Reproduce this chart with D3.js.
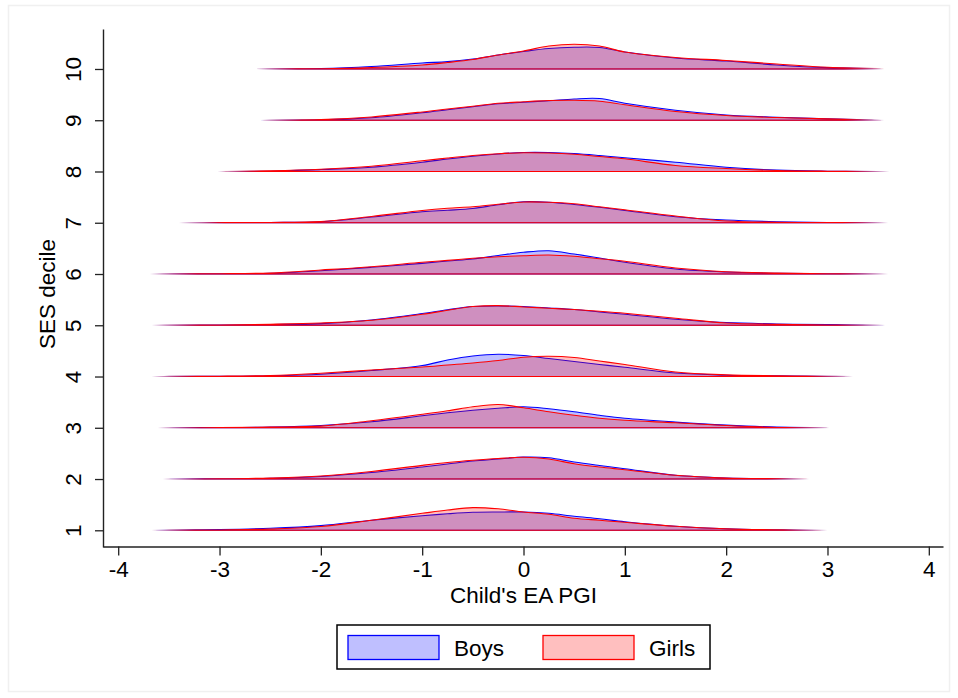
<!DOCTYPE html>
<html>
<head>
<meta charset="utf-8">
<script src="https://cdn.jsdelivr.net/npm/d3@7"></script>
<style>
  html, body { margin: 0; padding: 0; background: #fff; }
  svg { display: block; font-family: "Liberation Sans", Arial, sans-serif; }
</style>
</head>
<body>
<script>
// SES deciles (one ridge per decile)
const deciles = [1, 2, 3, 4, 5, 6, 7, 8, 9, 10];

// Evaluation grid of the kernel densities (child's EA PGI, standardised)
const gridPGI = [-3.5, -3, -2.5, -2, -1.5, -1, -0.75, -0.5, -0.25, 0, 0.25, 0.5, 0.75, 1, 1.5, 2, 2.5, 3, 3.5];

// Observed PGI range within each decile (density support)
const rangeLo = [-3.67, -3.56, -3.61, -3.67, -3.67, -3.69, -3.4, -3.02, -2.59, -2.63];
const rangeHi = [3.0, 2.82, 3.02, 3.25, 3.57, 3.6, 3.6, 3.61, 3.56, 3.56];

// Kernel density of the PGI for boys, by decile (rows = deciles 1..10)
const boysDensity = [
  [0.003, 0.012, 0.033, 0.078, 0.167, 0.242, 0.275, 0.300, 0.305, 0.305, 0.283, 0.233, 0.192, 0.142, 0.067, 0.025, 0.008, 0.001, 0],
  [0.001, 0.003, 0.012, 0.042, 0.108, 0.200, 0.250, 0.300, 0.333, 0.367, 0.355, 0.283, 0.225, 0.172, 0.062, 0.017, 0.005, 0, 0],
  [0.001, 0.003, 0.012, 0.038, 0.100, 0.200, 0.250, 0.292, 0.325, 0.350, 0.317, 0.267, 0.208, 0.158, 0.095, 0.045, 0.012, 0.002, 0],
  [0.002, 0.003, 0.012, 0.038, 0.100, 0.183, 0.275, 0.342, 0.372, 0.350, 0.300, 0.250, 0.200, 0.155, 0.058, 0.022, 0.012, 0.003, 0],
  [0.002, 0.003, 0.012, 0.028, 0.088, 0.195, 0.258, 0.312, 0.322, 0.312, 0.288, 0.262, 0.222, 0.183, 0.100, 0.045, 0.022, 0.012, 0.003],
  [0.002, 0.003, 0.012, 0.055, 0.112, 0.178, 0.217, 0.250, 0.308, 0.362, 0.388, 0.333, 0.267, 0.195, 0.083, 0.033, 0.012, 0.005, 0.002],
  [0, 0.002, 0.005, 0.017, 0.095, 0.183, 0.208, 0.238, 0.300, 0.350, 0.342, 0.305, 0.258, 0.205, 0.100, 0.045, 0.017, 0.005, 0.002],
  [0, 0, 0.005, 0.033, 0.072, 0.155, 0.208, 0.255, 0.292, 0.317, 0.317, 0.300, 0.267, 0.228, 0.155, 0.072, 0.022, 0.005, 0.001],
  [0, 0, 0.002, 0.008, 0.042, 0.125, 0.175, 0.225, 0.275, 0.300, 0.325, 0.355, 0.362, 0.283, 0.167, 0.088, 0.050, 0.022, 0.005],
  [0, 0, 0.002, 0.008, 0.042, 0.100, 0.122, 0.167, 0.233, 0.292, 0.342, 0.362, 0.358, 0.283, 0.183, 0.133, 0.067, 0.022, 0.005]
];

// Kernel density of the PGI for girls, by decile (rows = deciles 1..10)
const girlsDensity = [
  [0.002, 0.005, 0.022, 0.062, 0.167, 0.283, 0.338, 0.378, 0.358, 0.305, 0.267, 0.200, 0.167, 0.133, 0.067, 0.025, 0.007, 0.001, 0],
  [0.001, 0.003, 0.017, 0.050, 0.125, 0.228, 0.275, 0.312, 0.342, 0.362, 0.333, 0.255, 0.200, 0.155, 0.062, 0.017, 0.007, 0, 0],
  [0.001, 0.002, 0.012, 0.028, 0.117, 0.225, 0.283, 0.350, 0.388, 0.333, 0.267, 0.208, 0.158, 0.125, 0.083, 0.038, 0.005, 0.002, 0],
  [0.002, 0.005, 0.017, 0.055, 0.108, 0.158, 0.192, 0.225, 0.267, 0.322, 0.338, 0.317, 0.258, 0.200, 0.075, 0.028, 0.012, 0.003, 0],
  [0.002, 0.005, 0.017, 0.038, 0.083, 0.183, 0.250, 0.312, 0.328, 0.305, 0.283, 0.262, 0.233, 0.200, 0.117, 0.038, 0.017, 0.005, 0.002],
  [0.002, 0.005, 0.017, 0.067, 0.122, 0.195, 0.228, 0.262, 0.288, 0.305, 0.317, 0.295, 0.255, 0.212, 0.100, 0.038, 0.017, 0.005, 0.002],
  [0, 0.002, 0.005, 0.022, 0.105, 0.205, 0.242, 0.267, 0.308, 0.345, 0.342, 0.317, 0.267, 0.217, 0.112, 0.028, 0.008, 0.005, 0.002],
  [0, 0.001, 0.012, 0.038, 0.088, 0.178, 0.225, 0.267, 0.297, 0.312, 0.308, 0.288, 0.250, 0.212, 0.100, 0.050, 0.017, 0.005, 0.001],
  [0, 0, 0.003, 0.013, 0.055, 0.138, 0.188, 0.233, 0.283, 0.308, 0.328, 0.333, 0.317, 0.258, 0.145, 0.078, 0.045, 0.022, 0.005],
  [0, 0, 0.002, 0.005, 0.025, 0.067, 0.108, 0.158, 0.233, 0.300, 0.383, 0.412, 0.383, 0.283, 0.192, 0.142, 0.083, 0.028, 0.008]
];

// Axis ticks and legend entries
const xTicks = [-4, -3, -2, -1, 0, 1, 2, 3, 4];
const yTicks = deciles;
const seriesNames = ["Boys", "Girls"];
const seriesColors = ["#0000ff", "#ff0000"];

const W = 958, H = 698;
const FONT = 22.5;
const RIDGE_SCALE = 1.17;   // density units -> decile units

const svg = d3.select("body").append("svg")
  .attr("width", W).attr("height", H);

// faint frame round the graph region
svg.append("rect")
  .attr("x", 8.5).attr("y", 5.5).attr("width", 941).attr("height", 686)
  .attr("fill", "#fff").attr("stroke", "#f0f0f0").attr("stroke-width", 1.5);

const x = d3.scaleLinear().domain([-4.15, 4.14]).range([103, 943]);
const y = d3.scaleLinear().domain([0.674, 10.78]).range([547, 29]);

// fading strokes at the ends of each ridge
const defs = svg.append("defs");
seriesColors.forEach((c, i) => {
  const g = defs.append("linearGradient")
    .attr("id", "fade" + i)
    .attr("gradientUnits", "objectBoundingBox")
    .attr("x1", 0).attr("x2", 1).attr("y1", 0).attr("y2", 0);
  [[0, 0], [0.065, 1], [0.935, 1], [1, 0]].forEach(([o, a]) =>
    g.append("stop").attr("offset", o).attr("stop-color", c).attr("stop-opacity", a));
});

function ridgePoints(dens, k) {
  const lo = rangeLo[k], hi = rangeHi[k];
  const pts = [[lo, 0]];
  gridPGI.forEach((g, j) => { if (g > lo && g < hi) pts.push([g, dens[j]]); });
  pts.push([hi, 0]);
  return pts;
}

const plot = svg.append("g");

deciles.slice().reverse().forEach(d => {
  const k = d - 1;
  const area = d3.area()
    .x(p => x(p[0]))
    .y0(y(d))
    .y1(p => y(d + Math.max(0, p[1]) * RIDGE_SCALE))
    .curve(d3.curveCatmullRom.alpha(0.5));
  [boysDensity, girlsDensity].forEach((series, i) => {
    plot.append("path")
      .datum(ridgePoints(series[k], k))
      .attr("d", area)
      .attr("fill", seriesColors[i])
      .attr("fill-opacity", 0.25)
      .attr("stroke", `url(#fade${i})`)
      .attr("stroke-width", 1.1)
      .attr("stroke-linejoin", "round");
  });
});

// y axis
const yAxis = svg.append("g")
  .attr("transform", "translate(103,0)")
  .call(d3.axisLeft(y).tickValues(yTicks).tickSize(8).tickSizeOuter(0).tickFormat(d => String(d)));
yAxis.selectAll("text")
  .attr("x", 0).attr("dy", 0).attr("text-anchor", "middle")
  .attr("transform", "translate(-22,0) rotate(-90)");

// x axis
const xAxis = svg.append("g")
  .attr("transform", "translate(0,546.5)")
  .call(d3.axisBottom(x).tickValues(xTicks).tickSize(9).tickSizeOuter(0).tickFormat(d => String(d)));
xAxis.selectAll("text").attr("y", 30.5).attr("dy", 0);

[yAxis, xAxis].forEach(a => {
  a.attr("font-family", "Liberation Sans, Arial, sans-serif").attr("font-size", FONT);
  a.selectAll("text").attr("fill", "#000");
  a.select(".domain").attr("stroke", "#222").attr("stroke-width", 1.4);
  a.selectAll(".tick line").attr("stroke", "#222").attr("stroke-width", 1.3);
});

// axis titles
svg.append("text")
  .attr("x", 523.5).attr("y", 602.5)
  .attr("text-anchor", "middle").attr("font-size", FONT)
  .text("Child's EA PGI");
svg.append("text")
  .attr("transform", "translate(55,294) rotate(-90)")
  .attr("text-anchor", "middle").attr("font-size", FONT)
  .text("SES decile");

// legend
const legend = svg.append("g");
legend.append("rect")
  .attr("x", 337).attr("y", 625).attr("width", 373).attr("height", 44)
  .attr("fill", "#fff").attr("stroke", "#000").attr("stroke-width", 1.5);
const legendX = [348, 543];
seriesNames.forEach((name, i) => {
  legend.append("rect")
    .attr("x", legendX[i]).attr("y", 635.5).attr("width", 91).attr("height", 24)
    .attr("fill", seriesColors[i]).attr("fill-opacity", 0.25)
    .attr("stroke", seriesColors[i]).attr("stroke-width", 1.3);
  legend.append("text")
    .attr("x", legendX[i] + 106).attr("y", 656)
    .attr("font-size", FONT)
    .text(name);
});
</script>
</body>
</html>
